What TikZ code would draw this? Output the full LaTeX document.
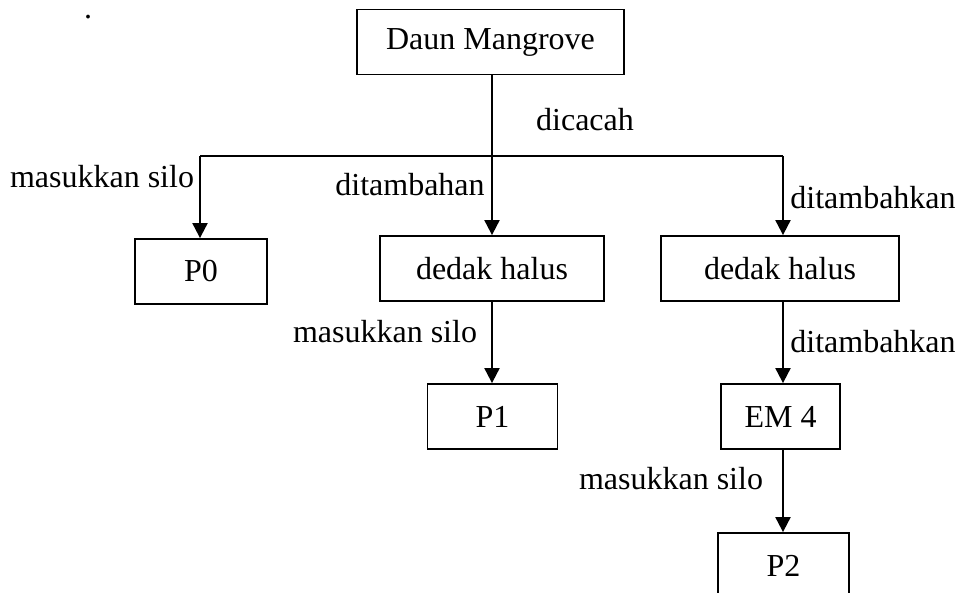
\documentclass[tikz,border=0pt]{standalone}
\usepackage{fontspec}
\setmainfont{Liberation Serif}
\usepackage{tikz}
\usetikzlibrary{arrows.meta,positioning}

\begin{document}
\begin{tikzpicture}[x=0.5pt,y=-0.5pt,
    box/.style={draw,line width=0.9pt,minimum height=32.5pt,inner sep=0pt,font=\fontsize{16}{19}\selectfont},
    lbl/.style={inner sep=0pt,font=\fontsize{16}{19}\selectfont},
    arr/.style={line width=1pt,-{Triangle[length=7.5pt,width=7.5pt]}}]
                \clip (0,0) rectangle (959,593);
                \node[lbl] (dot) at (88,17) {.};
                \node[box,minimum width=133.5pt] (daun) at (490.5,42) {Daun Mangrove};
                \node[box,minimum width=66pt] (p0) at (201,271.5) {P0};
                \node[box,minimum width=112pt] (dedaka) at (492,268.5) {dedak halus};
                \node[box,minimum width=119pt] (dedakb) at (780,268.5) {dedak halus};
                \node[box,minimum width=65pt] (p1) at (492.5,416.5) {P1};
                \node[box,minimum width=59.5pt] (em) at (780.5,416.5) {EM 4};
                \node[box,minimum width=65.5pt] (p2) at (783.5,565.5) {P2};
                \coordinate (tengah) at (492,156);
                \coordinate (kiri) at (200,156);
                \coordinate (kanan) at (783,156);
                \draw[line width=1pt] (kiri) -- (kanan);
                \draw[arr] (tengah |- daun.south) -- (tengah |- dedaka.north);
                \draw[arr] (kiri) -- (kiri |- p0.north);
                \draw[arr] (kanan) -- (kanan |- dedakb.north);
                \draw[arr] (tengah |- dedaka.south) -- (tengah |- p1.north);
                \draw[arr] (kanan |- dedakb.south) -- (kanan |- em.north);
                \draw[arr] (kanan |- em.south) -- (kanan |- p2.north);
                \node[lbl] (cacah) at (585,120) {dicacah};
                \node[lbl] (silo0) at (102,177) {masukkan silo};
                \node[lbl] (tambah0) at (410,185) {ditambahan};
                \node[lbl] (tambah1) at (873,198) {ditambahkan};
                \node[lbl] (silo1) at (385,332) {masukkan silo};
                \node[lbl] (tambah2) at (873,342) {ditambahkan};
                \node[lbl] (silo2) at (671,479) {masukkan silo};
            \end{tikzpicture}
\end{document}
